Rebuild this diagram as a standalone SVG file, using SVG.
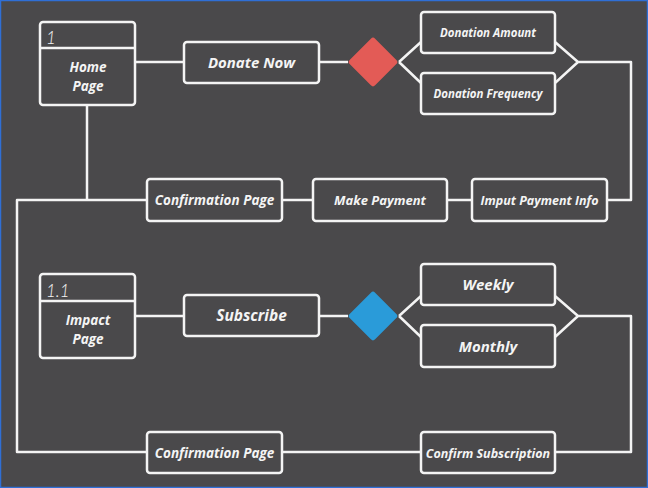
<svg xmlns="http://www.w3.org/2000/svg" width="648" height="488" viewBox="0 0 648 488">
<style>
.bx{fill:none;stroke:#f4f4f4;stroke-width:2.5}
.ln{fill:none;stroke:#f4f4f4;stroke-width:2.5;stroke-linejoin:round}
.t{fill:#f4f4f4;font-family:"Open Sans",Lato,sans-serif;font-weight:bold;font-style:italic;text-anchor:middle}
.num{fill:#f4f4f4;font-family:Lato,"Open Sans",sans-serif;font-weight:300;font-style:italic;font-size:17px}
</style>
<rect x="0" y="0" width="648" height="488" fill="#4a494b"/>
<rect x="0.5" y="0.5" width="647" height="487" fill="none" stroke="#2f6fd6" stroke-width="1.5"/>
<g id="connectors">
<path class="ln" d="M135 62H184M319 62H348"/>
<path class="ln" d="M399 62L421 42M399 62L421 83M555 42L578 62L555 83M578 62H631V200H607"/>
<path class="ln" d="M472 200H447M313 200H282M147 200H17V452H147M87 105V200"/>
<path class="ln" d="M135 316H184M319 316H348"/>
<path class="ln" d="M399 316L421 296M399 316L421 337M555 296L578 316L555 337M578 316H631V452H555M421 452H282"/>
</g>
<g id="home"><rect class="bx" x="40" y="22" width="95" height="83" rx="3"/><path class="ln" d="M40 48H135"/><text class="num" x="46" y="44">1</text><text class="t" x="88" y="72" font-size="13.5">Home</text><text class="t" x="88" y="90.5" font-size="13.5">Page</text></g>
<g id="donate"><rect class="bx" x="184" y="42" width="135" height="41" rx="3"/><text class="t" x="251.5" y="68" font-size="15">Donate Now</text></g>
<g id="dia1"><rect x="355" y="44" width="36" height="36" rx="3" fill="#e35b56" transform="rotate(45 373 62)"/></g>
<g id="amount"><rect class="bx" x="421" y="12" width="134" height="41" rx="3"/><text class="t" x="488" y="37" font-size="11.5">Donation Amount</text></g>
<g id="freq"><rect class="bx" x="421" y="73" width="134" height="41" rx="3"/><text class="t" x="488" y="98" font-size="11.5">Donation Frequency</text></g>
<g id="conf1"><rect class="bx" x="147" y="179" width="135" height="42" rx="3"/><text class="t" x="214.5" y="205" font-size="13.5">Confirmation Page</text></g>
<g id="pay"><rect class="bx" x="313" y="179" width="134" height="42" rx="3"/><text class="t" x="380" y="205" font-size="13">Make Payment</text></g>
<g id="info"><rect class="bx" x="472" y="179" width="135" height="42" rx="3"/><text class="t" x="539.5" y="205" font-size="12.5">Imput Payment Info</text></g>
<g id="impact"><rect class="bx" x="40" y="274" width="95" height="84" rx="3"/><path class="ln" d="M40 301H135"/><text class="num" x="46" y="297">1.1</text><text class="t" x="88" y="325" font-size="13.5">Impact</text><text class="t" x="88" y="343.5" font-size="13.5">Page</text></g>
<g id="subscribe"><rect class="bx" x="184" y="295" width="135" height="41" rx="3"/><text class="t" x="251.5" y="321" font-size="15.5">Subscribe</text></g>
<g id="dia2"><rect x="355" y="298" width="36" height="36" rx="3" fill="#2a9bd9" transform="rotate(45 373 316)"/></g>
<g id="weekly"><rect class="bx" x="421" y="264" width="134" height="41" rx="3"/><text class="t" x="488" y="290" font-size="15">Weekly</text></g>
<g id="monthly"><rect class="bx" x="421" y="325" width="134" height="42" rx="3"/><text class="t" x="488" y="352" font-size="15">Monthly</text></g>
<g id="conf2"><rect class="bx" x="147" y="432" width="135" height="41" rx="3"/><text class="t" x="214.5" y="458" font-size="13.5">Confirmation Page</text></g>
<g id="confsub"><rect class="bx" x="421" y="432" width="134" height="41" rx="3"/><text class="t" x="488" y="457.5" font-size="12.5">Confirm Subscription</text></g>
</svg>
